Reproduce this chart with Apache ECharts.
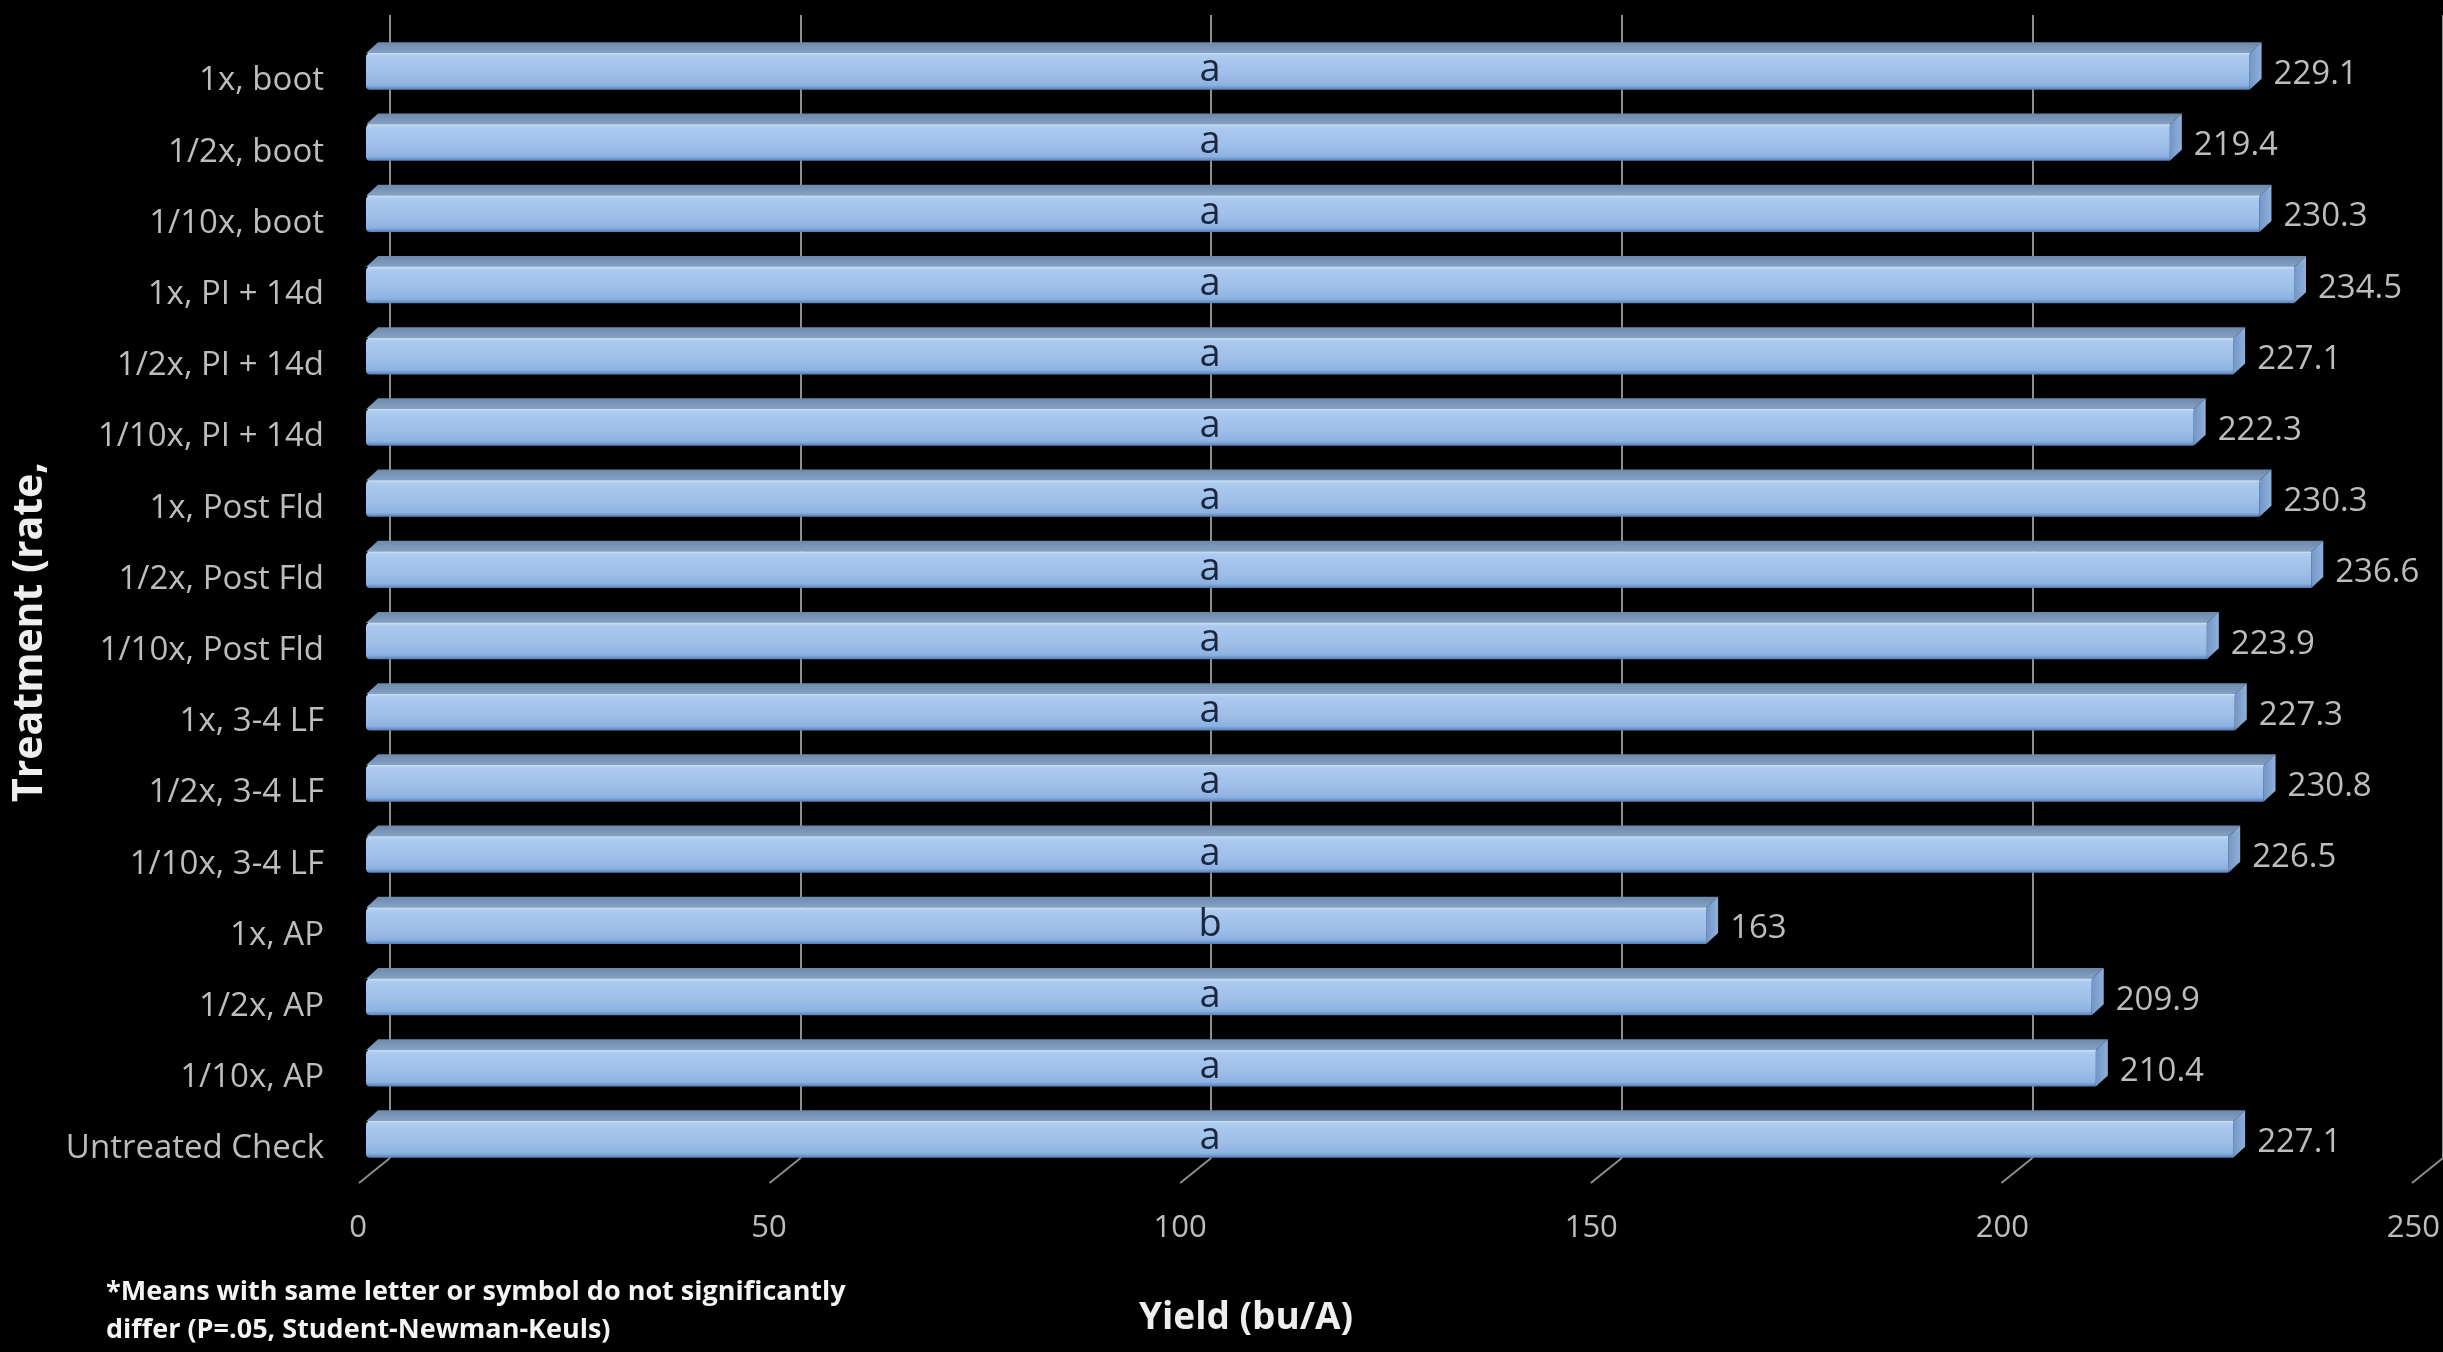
<!DOCTYPE html>
<html>
<head>
<meta charset="utf-8">
<title>Treatment yield</title>
<script src="https://cdn.jsdelivr.net/npm/echarts@6/dist/echarts.min.js"></script>
<style>
  html, body { margin: 0; padding: 0; background: #000; }
  #chart { width: 2443px; height: 1352px; }
</style>
</head>
<body>
<div id="chart"></div>
<script>
// Treatments, top to bottom
const categories = [
  '1x, boot', '1/2x, boot', '1/10x, boot',
  '1x, PI + 14d', '1/2x, PI + 14d', '1/10x, PI + 14d',
  '1x, Post Fld', '1/2x, Post Fld', '1/10x, Post Fld',
  '1x, 3-4 LF', '1/2x, 3-4 LF', '1/10x, 3-4 LF',
  '1x, AP', '1/2x, AP', '1/10x, AP',
  'Untreated Check'
];
// Mean yield (bu/A) per treatment
const yields = [
  229.1, 219.4, 230.3,
  234.5, 227.1, 222.3,
  230.3, 236.6, 223.9,
  227.3, 230.8, 226.5,
  163, 209.9, 210.4,
  227.1
];
// Mean separation letters (SNK, P=.05)
const letters = [
  'a', 'a', 'a',
  'a', 'a', 'a',
  'a', 'a', 'a',
  'a', 'a', 'a',
  'b', 'a', 'a',
  'a'
];
// Yield axis ticks
const yieldTicks = [0, 50, 100, 150, 200, 250];

const AXIS_MIN = 0, AXIS_MAX = 250, AXIS_STEP = 50;

// pseudo-3D depth of a bar (right / up)
const DX = 12, DY = -11;
// depth of the floor from back wall to front edge
const FLOOR_DX = -31, FLOOR_DY = 25;
const LETTER_AT = 100;

const chart = echarts.init(document.getElementById('chart'), null, { renderer: 'canvas' });

const frontFill = new echarts.graphic.LinearGradient(0, 0, 0, 1, [
  { offset: 0, color: '#b6d1f2' },
  { offset: 0.12, color: '#abc9ee' },
  { offset: 0.6, color: '#9ebee8' },
  { offset: 0.88, color: '#8db1e1' },
  { offset: 1, color: '#557fb6' }
]);
const topFill = new echarts.graphic.LinearGradient(0, 0, 0, 1, [
  { offset: 0, color: '#6c89ad' },
  { offset: 1, color: '#86a2c3' }
]);
const endFill = new echarts.graphic.LinearGradient(0, 0, 1, 0, [
  { offset: 0, color: '#7396c6' },
  { offset: 1, color: '#8fb0da' }
]);

function renderBar(params, api) {
  const v = api.value(0);
  const c = api.value(1);
  const p0 = api.coord([0, c]);
  const p1 = api.coord([v, c]);
  const band = api.size([0, 1])[1];
  const h = band * 0.51;
  const x0 = p0[0], x1 = p1[0];
  const y = p0[1] - h / 2;
  const cy = p0[1];
  const lx = api.coord([LETTER_AT, c])[0] + 22;
  return {
    type: 'group',
    children: [
      {
        type: 'polygon',
        shape: { points: [[x0, y], [x1, y], [x1 + DX, y + DY], [x0 + DX, y + DY]] },
        style: { fill: topFill }
      },
      {
        type: 'polygon',
        shape: { points: [[x1, y], [x1 + DX, y + DY], [x1 + DX, y + DY + h], [x1, y + h]] },
        style: { fill: endFill }
      },
      {
        type: 'rect',
        shape: { x: x0, y: y, width: x1 - x0, height: h, r: [4, 0, 0, 4] },
        style: { fill: frontFill }
      },
      {
        type: 'line',
        shape: { x1: x0 + 2, y1: y + 0.5, x2: x1, y2: y + 0.5 },
        style: { stroke: '#c4dbf5', lineWidth: 1.5 }
      },
      {
        type: 'text',
        x: x1 + DX + 12,
        y: cy + 3,
        style: {
          text: String(v),
          font: '33px "Open Sans"',
          fill: '#bdbdbd',
          align: 'left',
          verticalAlign: 'middle'
        }
      },
      {
        type: 'text',
        x: lx,
        y: cy - 1,
        style: {
          text: letters[params.dataIndex],
          font: '38px "Open Sans"',
          fill: '#1a2740',
          align: 'center',
          verticalAlign: 'middle'
        }
      }
    ]
  };
}

function renderFloorTick(params, api) {
  const p = api.coord([api.value(0), 0]);
  return {
    type: 'line',
    shape: { x1: p[0], y1: p[1], x2: p[0] + FLOOR_DX, y2: p[1] + FLOOR_DY },
    style: { stroke: '#8c8c8c', lineWidth: 2 }
  };
}

const option = {
  backgroundColor: '#000000',
  animation: false,
  grid: [
    // front plane: bars, category labels, tick labels
    { left: 366, width: 2061.5, top: 35.9, bottom: 176.9, containLabel: false },
    // back wall: gridlines and floor ticks
    { left: 390, width: 2061.5, top: 15, bottom: 194, containLabel: false }
  ],
  xAxis: [
    {
      gridIndex: 0, type: 'value', min: AXIS_MIN, max: AXIS_MAX, interval: AXIS_STEP,
      axisLine: { show: false }, axisTick: { show: false }, splitLine: { show: false },
      axisLabel: {
        color: '#bdbdbd', fontSize: 31, fontFamily: 'Open Sans', margin: 38,
        padding: [0, 16, 0, 0]
      }
    },
    {
      gridIndex: 1, type: 'value', min: AXIS_MIN, max: AXIS_MAX, interval: AXIS_STEP,
      axisLine: { show: false }, axisTick: { show: false }, axisLabel: { show: false },
      splitLine: { show: true, lineStyle: { color: '#8f8f8f', width: 2 } }
    }
  ],
  yAxis: [
    {
      gridIndex: 0, type: 'category', data: categories, inverse: true,
      axisLine: { show: false }, axisTick: { show: false }, splitLine: { show: false },
      axisLabel: {
        margin: 42,
        formatter: function (value) { return '{t|' + value + '}'; },
        rich: {
          t: {
            color: '#bdbdbd', fontSize: 33, fontFamily: 'Open Sans',
            padding: [19, 0, 0, 0]
          }
        }
      }
    },
    {
      gridIndex: 1, type: 'value', min: 0, max: 1, show: false,
      splitLine: { show: false }
    }
  ],
  graphic: [
    {
      type: 'text', x: 30, y: 632, rotation: Math.PI / 2,
      style: {
        text: 'Treatment (rate,', font: 'bold 41px "Open Sans"', fill: '#eeeeee',
        align: 'center', verticalAlign: 'middle'
      }
    },
    {
      type: 'text', x: 1246, y: 1318,
      style: {
        text: 'Yield (bu/A)', font: 'bold 37px "Open Sans"', fill: '#eeeeee',
        align: 'center', verticalAlign: 'middle'
      }
    },
    {
      type: 'text', x: 106, y: 1311,
      style: {
        text: '*Means with same letter or symbol do not significantly\ndiffer (P=.05, Student-Newman-Keuls)',
        font: 'bold 27px "Open Sans"', lineHeight: 38, fill: '#f4f4f4',
        align: 'left', verticalAlign: 'middle'
      }
    }
  ],
  series: [
    {
      type: 'custom',
      name: 'floor ticks',
      xAxisIndex: 1, yAxisIndex: 1,
      data: yieldTicks.map(t => [t]),
      encode: { x: 0 },
      renderItem: renderFloorTick,
      clip: false,
      silent: true
    },
    {
      type: 'custom',
      name: 'Yield',
      xAxisIndex: 0, yAxisIndex: 0,
      data: yields.map((v, i) => [v, i]),
      encode: { x: 0, y: 1 },
      renderItem: renderBar,
      clip: false,
      z: 3
    }
  ]
};

chart.setOption(option);
</script>
</body>
</html>
